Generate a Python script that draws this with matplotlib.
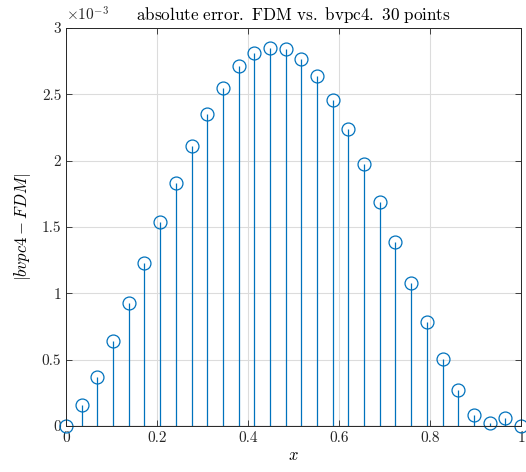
import numpy as np
import matplotlib
matplotlib.use('Agg')
import matplotlib.pyplot as plt

# ── Data (units of 1e-3) ───────────────────────────────────────────────────────
n_points = 30
x = np.linspace(0, 1, n_points)
err_e3 = [0.00, 0.16, 0.37, 0.64, 0.925, 1.23, 1.537, 1.83, 2.11, 2.35,
          2.55, 2.71, 2.81, 2.846, 2.84, 2.766, 2.64, 2.457, 2.236, 1.974,
          1.69, 1.389, 1.075, 0.784, 0.503, 0.271, 0.085, 0.02, 0.06, 0.00]
err = np.array(err_e3) * 1e-3

x_ticks = [0, 0.2, 0.4, 0.6, 0.8, 1]
y_ticks = [0, 0.5e-3, 1e-3, 1.5e-3, 2e-3, 2.5e-3, 3e-3]

# ── Style ──────────────────────────────────────────────────────────────────────
plt.rcParams['font.family'] = 'serif'
plt.rcParams['font.serif'] = ['cmr10']
plt.rcParams['mathtext.fontset'] = 'cm'
plt.rcParams['axes.formatter.use_mathtext'] = True
plt.rcParams['axes.unicode_minus'] = False

BLUE = '#0072BD'

fig = plt.figure(figsize=(5.26, 4.72), dpi=100)
ax = fig.add_axes([0.1255, 0.0975, 0.865, 0.8432])

markerline, stemlines, baseline = ax.stem(x, err, basefmt='k-')
plt.setp(stemlines, color=BLUE, linewidth=0.9)
plt.setp(markerline, color=BLUE, marker='o', markersize=9.3,
         markerfacecolor='none', markeredgewidth=0.9)
plt.setp(baseline, color='black', linewidth=0.8)
markerline.set_clip_on(False)

ax.set_xlim(0, 1)
ax.set_ylim(0, 3e-3)
ax.set_xticks(x_ticks)
ax.set_yticks(y_ticks)
ax.set_xticklabels(['0', '0.2', '0.4', '0.6', '0.8', '1'])
ax.set_yticklabels(['0', '0.5', '1', '1.5', '2', '2.5', '3'])

ax.grid(True, color='#dcdcdc', linewidth=0.8)
ax.set_axisbelow(True)
ax.tick_params(direction='in', top=True, right=True, length=4,
               labelsize=11, width=0.6, color='#262626', labelcolor='#262626')
for s in ax.spines.values():
    s.set_linewidth(0.7)
    s.set_color('#262626')

ax.text(0.0, 1.012, r'$\times 10^{-3}$', transform=ax.transAxes,
        fontsize=11, ha='left', va='bottom', color='#262626')

ax.set_title(r'$\mathrm{absolute\ error.\ FDM\ vs.\ bvpc4.\ 30\ points}$',
             fontsize=12.3, pad=6)
ax.set_xlabel(r'$x$', fontsize=12, labelpad=2)
ax.set_ylabel(r'$|bvpc4-FDM|$', fontsize=12, labelpad=6)

fig.savefig('out.png', dpi=100)
